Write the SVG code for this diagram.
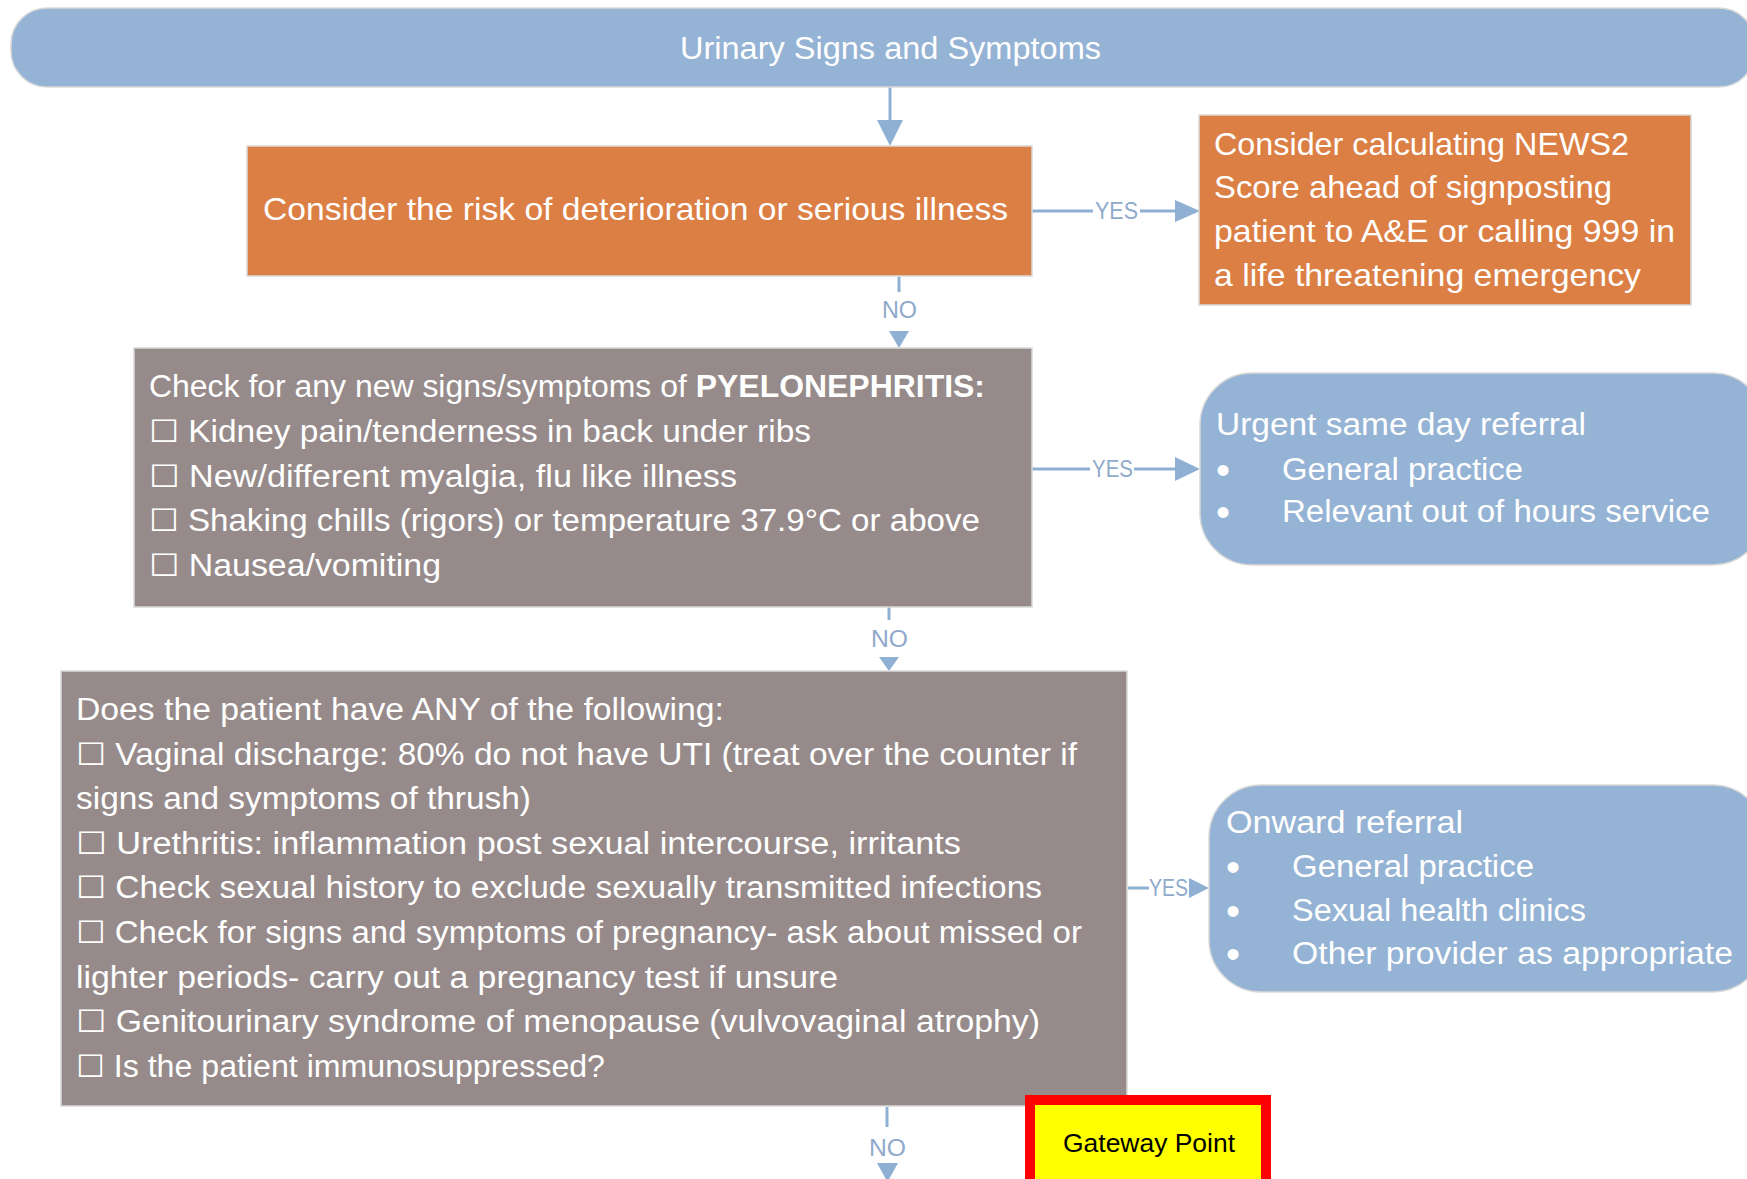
<svg xmlns="http://www.w3.org/2000/svg" width="1747" height="1179" viewBox="0 0 1747 1179">
<style>
.t{font-family:"Liberation Sans",Arial,sans-serif;fill:#ffffff;font-size:31px}
.big{font-size:32px}
.bul{font-family:"Liberation Sans",Arial,sans-serif;fill:#ffffff;font-size:40px}
.lbl{font-family:"Liberation Sans",Arial,sans-serif;fill:#8faacb;font-size:23px}
.cb{font-family:"DejaVu Sans","Liberation Sans",sans-serif}
.orange{fill:#dc7f45;stroke:#d9d9d9;stroke-width:1.5}
.grey{fill:#968b8a;stroke:#d9d9d9;stroke-width:1.5}
.blue{fill:#95b3d4;stroke:#d9d9d9;stroke-width:1.5}
.ln{stroke:#8fb0d3;stroke-width:3;fill:none}
.ah{fill:#8fb0d3}
</style>
<rect width="1747" height="1179" fill="#ffffff"/>

<g id="connectors">
  <line class="ln" x1="890" y1="87" x2="890" y2="122"/>
  <polygon class="ah" points="877,120 903,120 890,146"/>
  <line class="ln" x1="1032" y1="211" x2="1093" y2="211"/>
  <line class="ln" x1="1140" y1="211" x2="1177" y2="211"/>
  <polygon class="ah" points="1175,200 1200,211 1175,222"/>
  <text class="lbl" x="1095" y="219" textLength="43" lengthAdjust="spacingAndGlyphs">YES</text>
  <line class="ln" x1="899" y1="277" x2="899" y2="292"/>
  <text class="lbl" x="882" y="318" textLength="35" lengthAdjust="spacingAndGlyphs">NO</text>
  <polygon class="ah" points="889,331 909,331 899,348"/>
  <line class="ln" x1="1032" y1="469" x2="1090" y2="469"/>
  <line class="ln" x1="1134" y1="469" x2="1177" y2="469"/>
  <polygon class="ah" points="1175,457 1200,469 1175,481"/>
  <text class="lbl" x="1092" y="477" textLength="41" lengthAdjust="spacingAndGlyphs">YES</text>
  <line class="ln" x1="889" y1="607" x2="889" y2="620"/>
  <text class="lbl" x="871" y="647" textLength="37" lengthAdjust="spacingAndGlyphs">NO</text>
  <polygon class="ah" points="879,657 899,657 889,671"/>
  <line class="ln" x1="1128" y1="888" x2="1149" y2="888"/>
  <text class="lbl" x="1149" y="896" textLength="39" lengthAdjust="spacingAndGlyphs">YES</text>
  <polygon class="ah" points="1189,878 1209,888 1189,898"/>
  <line class="ln" x1="887" y1="1107" x2="887" y2="1127"/>
  <text class="lbl" x="869" y="1156" textLength="37" lengthAdjust="spacingAndGlyphs">NO</text>
  <polygon class="ah" points="877,1163 898,1163 887.5,1182"/>
</g>

<g id="title">
  <rect x="11" y="8" width="1744" height="79" rx="36" ry="36" class="blue"/>
  <text class="t" x="680" y="59" font-size="32" textLength="421" lengthAdjust="spacingAndGlyphs">Urinary Signs and Symptoms</text>
</g>

<g id="risk">
  <rect x="247" y="146" width="785" height="130" class="orange"/>
  <text class="t big" x="263" y="220" textLength="745" lengthAdjust="spacingAndGlyphs">Consider the risk of deterioration or serious illness</text>
</g>

<g id="news2">
  <rect x="1199" y="115" width="492" height="190" class="orange"/>
  <text class="t big" x="1214" y="155" textLength="415" lengthAdjust="spacingAndGlyphs">Consider calculating NEWS2</text>
  <text class="t big" x="1214" y="198" textLength="398" lengthAdjust="spacingAndGlyphs">Score ahead of signposting</text>
  <text class="t big" x="1214" y="242" textLength="461" lengthAdjust="spacingAndGlyphs">patient to A&amp;E or calling 999 in</text>
  <text class="t big" x="1214" y="286" textLength="427" lengthAdjust="spacingAndGlyphs">a life threatening emergency</text>
</g>

<g id="pyelonephritis">
  <rect x="134" y="348" width="898" height="259" class="grey"/>
  <text class="t" x="149" y="397" textLength="836" lengthAdjust="spacingAndGlyphs">Check for any new signs/symptoms of <tspan font-weight="bold">PYELONEPHRITIS:</tspan></text>
  <text class="t" x="149" y="442" textLength="662" lengthAdjust="spacingAndGlyphs"><tspan class="cb">☐</tspan> Kidney pain/tenderness in back under ribs</text>
  <text class="t" x="149" y="487" textLength="588" lengthAdjust="spacingAndGlyphs"><tspan class="cb">☐</tspan> New/different myalgia, flu like illness</text>
  <text class="t" x="149" y="531" textLength="831" lengthAdjust="spacingAndGlyphs"><tspan class="cb">☐</tspan> Shaking chills (rigors) or temperature 37.9°C or above</text>
  <text class="t" x="149" y="576" textLength="292" lengthAdjust="spacingAndGlyphs"><tspan class="cb">☐</tspan> Nausea/vomiting</text>
</g>

<g id="urgent">
  <rect x="1200" y="373" width="565" height="192" rx="52" ry="52" class="blue"/>
  <text class="t" x="1216" y="435" textLength="370" lengthAdjust="spacingAndGlyphs">Urgent same day referral</text>
  <text class="bul" x="1216" y="484">•</text>
  <text class="t" x="1282" y="480" textLength="241" lengthAdjust="spacingAndGlyphs">General practice</text>
  <text class="bul" x="1216" y="526">•</text>
  <text class="t" x="1282" y="522" textLength="428" lengthAdjust="spacingAndGlyphs">Relevant out of hours service</text>
</g>

<g id="exclusions">
  <rect x="61" y="671" width="1066" height="435" class="grey"/>
  <text class="t" x="76" y="720" textLength="648" lengthAdjust="spacingAndGlyphs">Does the patient have ANY of the following:</text>
  <text class="t" x="76" y="765" textLength="1001" lengthAdjust="spacingAndGlyphs"><tspan class="cb">☐</tspan> Vaginal discharge: 80% do not have UTI (treat over the counter if</text>
  <text class="t" x="76" y="809" textLength="455" lengthAdjust="spacingAndGlyphs">signs and symptoms of thrush)</text>
  <text class="t" x="76" y="854" textLength="885" lengthAdjust="spacingAndGlyphs"><tspan class="cb">☐</tspan> Urethritis: inflammation post sexual intercourse, irritants</text>
  <text class="t" x="76" y="898" textLength="966" lengthAdjust="spacingAndGlyphs"><tspan class="cb">☐</tspan> Check sexual history to exclude sexually transmitted infections</text>
  <text class="t" x="76" y="943" textLength="1006" lengthAdjust="spacingAndGlyphs"><tspan class="cb">☐</tspan> Check for signs and symptoms of pregnancy- ask about missed or</text>
  <text class="t" x="76" y="988" textLength="762" lengthAdjust="spacingAndGlyphs">lighter periods- carry out a pregnancy test if unsure</text>
  <text class="t" x="76" y="1032" textLength="964" lengthAdjust="spacingAndGlyphs"><tspan class="cb">☐</tspan> Genitourinary syndrome of menopause (vulvovaginal atrophy)</text>
  <text class="t" x="76" y="1077" textLength="529" lengthAdjust="spacingAndGlyphs"><tspan class="cb">☐</tspan> Is the patient immunosuppressed?</text>
</g>

<g id="onward">
  <rect x="1209" y="785" width="556" height="207" rx="52" ry="52" class="blue"/>
  <text class="t" x="1226" y="833" textLength="237" lengthAdjust="spacingAndGlyphs">Onward referral</text>
  <text class="bul" x="1226" y="881">•</text>
  <text class="t" x="1292" y="877" textLength="242" lengthAdjust="spacingAndGlyphs">General practice</text>
  <text class="bul" x="1226" y="925">•</text>
  <text class="t" x="1292" y="921" textLength="294" lengthAdjust="spacingAndGlyphs">Sexual health clinics</text>
  <text class="bul" x="1226" y="968">•</text>
  <text class="t" x="1292" y="964" textLength="441" lengthAdjust="spacingAndGlyphs">Other provider as appropriate</text>
</g>

<g id="gateway">
  <rect x="1030" y="1100" width="236" height="110" fill="#ffff00" stroke="#ff0000" stroke-width="10"/>
  <text x="1063" y="1152" font-family="Liberation Sans, Arial, sans-serif" font-size="25" fill="#000000" textLength="172" lengthAdjust="spacingAndGlyphs">Gateway Point</text>
</g>
</svg>
